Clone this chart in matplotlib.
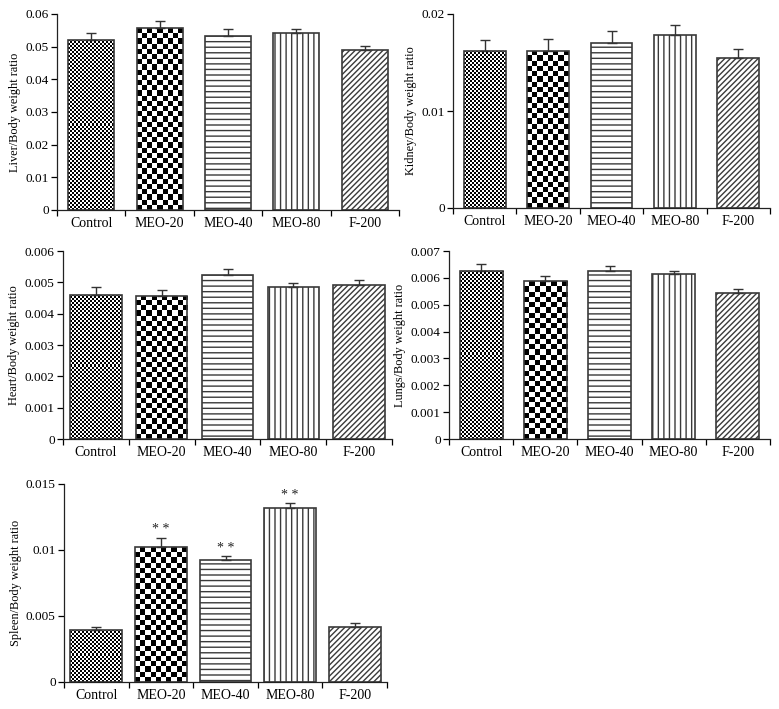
import numpy as np
import matplotlib
matplotlib.use("Agg")
import matplotlib.pyplot as plt

plt.rcParams['font.family'] = ['Liberation Serif', 'DejaVu Serif']
plt.rcParams['hatch.linewidth'] = 1.0

groups = ['Control', 'MEO-20', 'MEO-40', 'MEO-80', 'F-200']

# organ / body weight ratio, mean and upper error (SEM)
liver = [0.0521, 0.0557, 0.0534, 0.0543, 0.0491]
liver_err = [0.0021, 0.0021, 0.0021, 0.0010, 0.0010]

kidney = [0.01623, 0.01623, 0.01705, 0.01784, 0.01544]
kidney_err = [0.00106, 0.00117, 0.00124, 0.00103, 0.00092]

heart = [0.00461, 0.00457, 0.00525, 0.00485, 0.00493]
heart_err = [0.00024, 0.00019, 0.00016, 0.00012, 0.00013]

lungs = [0.00626, 0.00587, 0.00627, 0.00615, 0.00543]
lungs_err = [0.00025, 0.00019, 0.00018, 0.00011, 0.00014]

spleen = [0.00395, 0.01020, 0.00921, 0.01315, 0.00415]
spleen_err = [0.00018, 0.00073, 0.00030, 0.00040, 0.00033]
spleen_sig = ['', '* *', '* *', '* *', '']

liver_ticks = [0, 0.01, 0.02, 0.03, 0.04, 0.05, 0.06]
liver_labels = ['0', '0.01', '0.02', '0.03', '0.04', '0.05', '0.06']
kidney_ticks = [0, 0.01, 0.02]
kidney_labels = ['0', '0.01', '0.02']
heart_ticks = [0, 0.001, 0.002, 0.003, 0.004, 0.005, 0.006]
heart_labels = ['0', '0.001', '0.002', '0.003', '0.004', '0.005', '0.006']
lungs_ticks = [0, 0.001, 0.002, 0.003, 0.004, 0.005, 0.006, 0.007]
lungs_labels = ['0', '0.001', '0.002', '0.003', '0.004', '0.005', '0.006', '0.007']
spleen_ticks = [0, 0.005, 0.01, 0.015]
spleen_labels = ['0', '0.005', '0.01', '0.015']

W, H = 779, 709
EDGE = '#3a3a3a'


def px_axes(fig, left, top, right, bottom):
    return fig.add_axes([left / W, 1 - bottom / H, (right - left) / W, (bottom - top) / H])


def checker_fill(ax, bar, sq):
    # checkerboard image clipped to the bar
    bb = bar.get_window_extent()
    nx = max(1, int(round(bb.width / sq)))
    ny = max(1, int(round(bb.height / sq)))
    grid = np.indices((ny, nx)).sum(axis=0) % 2
    x0 = bar.get_x()
    im = ax.imshow(grid, cmap='gray', vmin=0, vmax=1, origin='lower',
                   extent=(x0, x0 + bar.get_width(), 0, bar.get_height()),
                   interpolation='nearest', aspect='auto', zorder=1.5)
    im.set_clip_path(bar)


def panel(fig, rect, vals, errs, ylabel, ticks, labels, width, stars=None):
    ax = px_axes(fig, *rect)
    x = np.arange(len(groups))
    ymax = ticks[-1]
    ax.set_xlim(-0.5, len(groups) - 0.5)
    ax.set_ylim(0, ymax)
    hatches = [None, None, '---', '|||', '//////']
    bars = ax.bar(x, vals, width, facecolor='none', edgecolor=EDGE,
                  linewidth=1.2, zorder=2)
    for b, h in zip(bars, hatches):
        if h:
            b.set_hatch(h)
            b.set_facecolor('white')
    checker_fill(ax, bars[0], 2.0)
    checker_fill(ax, bars[1], 5.2)
    ax.errorbar(x, vals, yerr=[np.zeros(len(vals)), errs], fmt='none',
                ecolor='#333333', elinewidth=1.0, capsize=3.5, capthick=1.0,
                zorder=3)
    if stars:
        for xi, v, e, s in zip(x, vals, errs, stars):
            if s:
                ax.annotate(s, (xi, v + e), xytext=(0, 1), textcoords='offset points',
                            ha='center', va='bottom', fontsize=10, color='#222222')
    ax.set_xlim(-0.5, len(groups) - 0.5)
    ax.set_ylim(0, ymax)

    for side in ['top', 'right']:
        ax.spines[side].set_visible(False)
    for side in ['left', 'bottom']:
        ax.spines[side].set_linewidth(0.9)
        ax.spines[side].set_color('#222222')

    ax.set_yticks(ticks, labels)
    ax.set_xticks(np.arange(-0.5, len(groups)), [''] * (len(groups) + 1))
    ax.set_xticks(x, groups, minor=True)
    ax.tick_params(axis='x', which='major', direction='out', length=4, width=0.9)
    ax.tick_params(axis='x', which='minor', length=0, pad=5, labelsize=10)
    ax.tick_params(axis='y', direction='out', length=4, width=0.9, labelsize=9.5, pad=2)
    ax.set_ylabel(ylabel, fontsize=8.8, labelpad=3)
    return ax


fig = plt.figure(figsize=(W / 100, H / 100), dpi=100)

panel(fig, (57, 14, 399, 210), liver, liver_err, 'Liver/Body weight ratio',
      liver_ticks, liver_labels, 0.67)
panel(fig, (453, 14, 770, 208), kidney, kidney_err, 'Kidney/Body weight ratio',
      kidney_ticks, kidney_labels, 0.66)
panel(fig, (63, 251, 392, 439), heart, heart_err, 'Heart/Body weight ratio',
      heart_ticks, heart_labels, 0.78)
panel(fig, (449, 251, 770, 439), lungs, lungs_err, 'Lungs/Body weight ratio',
      lungs_ticks, lungs_labels, 0.67)
panel(fig, (64, 484, 387, 682), spleen, spleen_err, 'Spleen/Body weight ratio',
      spleen_ticks, spleen_labels, 0.80, stars=spleen_sig)

fig.savefig('out.png', dpi=100)
